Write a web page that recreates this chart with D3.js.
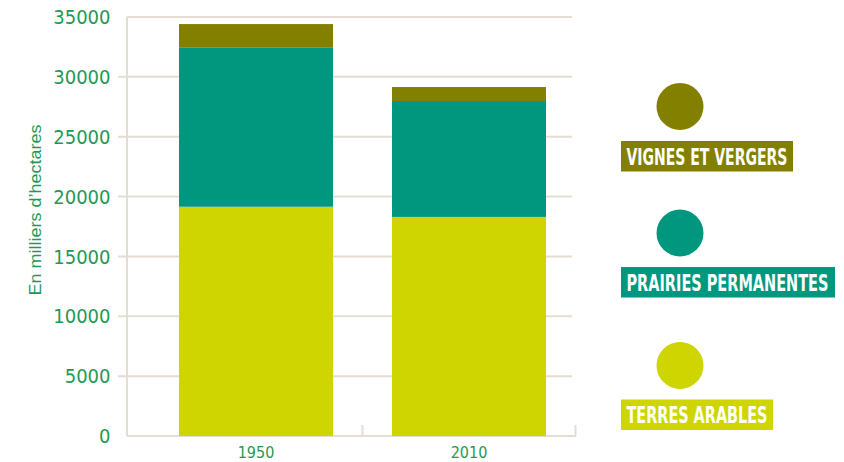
<!DOCTYPE html>
<html><head><meta charset="utf-8">
<script src="https://cdn.jsdelivr.net/npm/d3@7"></script>
<style>body{margin:0;background:#fff}svg{display:block}</style>
</head><body>
<svg id="c" width="844" height="462"></svg>
<script>
const years = ["1950", "2010"];
const terresArables = [19150, 18300];
const prairiesPermanentes = [13280, 9680];
const vignesVergers = [1980, 1170];
const yTicks = [0, 5000, 10000, 15000, 20000, 25000, 30000, 35000];
const seriesNames = ["TERRES ARABLES", "PRAIRIES PERMANENTES", "VIGNES ET VERGERS"];
const seriesColors = ["#ced500", "#00977f", "#838000"];

const svg = d3.select("#c");
const narrow = "'Liberation Sans Narrow','DejaVu Sans Condensed','Liberation Sans',sans-serif";
const green = "#1f9a55";
const gridCol = "#e6ddd1";

const y = d3.scaleLinear().domain([0, 35000]).range([436, 17]);
const x = d3.scaleBand().domain(years).range([149.5, 575.5]).paddingInner(0).paddingOuter(0);
const barW = x.bandwidth() * 0.723;

// gridlines
svg.append("g").selectAll("line").data(yTicks).join("line")
  .attr("x1", d => (d === 0 || d === 35000) ? 127 : 118)
  .attr("x2", d => d === 0 ? 576 : 572)
  .attr("y1", d => y(d)).attr("y2", d => y(d))
  .attr("stroke", gridCol).attr("stroke-width", 2);

// y axis line
svg.append("line").attr("x1", 127).attr("x2", 127).attr("y1", y(35000)).attr("y2", y(0))
  .attr("stroke", gridCol).attr("stroke-width", 2);

// x axis ticks
svg.append("g").selectAll("line").data([x("2010"), x("2010") + x.bandwidth()]).join("line")
  .attr("x1", d => d).attr("x2", d => d).attr("y1", y(0)).attr("y2", y(0) - 11)
  .attr("stroke", gridCol).attr("stroke-width", 2);

// stacked data
const table = years.map((yr, i) => ({year: yr, t: terresArables[i], p: prairiesPermanentes[i], v: vignesVergers[i]}));
const stack = d3.stack().keys(["t", "p", "v"])(table);
svg.append("g").selectAll("g").data(stack).join("g")
  .attr("fill", (d, i) => seriesColors[i])
  .selectAll("rect").data(d => d).join("rect")
  .attr("x", d => x(d.data.year) + (x.bandwidth() - barW) / 2)
  .attr("width", barW)
  .attr("y", d => y(d[1]))
  .attr("height", d => y(d[0]) - y(d[1]));

// helper: fit text horizontally by scaling
function fitX(sel, target) {
  sel.each(function(d) {
    const t = typeof target === "function" ? target(d) : target;
    const w = this.getComputedTextLength();
    const s = t / w;
    const g = this.parentNode;
    d3.select(this).attr("transform", `scale(${s},1)`);
  });
}

// y tick labels
svg.append("g").selectAll("text").data(yTicks).join("text")
  .attr("x", 110.5).attr("y", d => y(d)).attr("dy", "0.36em")
  .attr("text-anchor", "end").attr("fill", green)
  .style("font-family", narrow).style("font-size", "20px")
  .text(d => d);

// x labels
svg.append("g").selectAll("text").data(years).join("text")
  .attr("x", d => x(d) + x.bandwidth() / 2).attr("y", 458)
  .attr("text-anchor", "middle").attr("fill", green)
  .style("font-family", narrow).style("font-size", "16px")
  .text(d => d);

// y title
const yt = svg.append("g").attr("transform", "translate(41,210) rotate(-90)")
  .append("text").attr("text-anchor", "middle").attr("fill", green)
  .style("font-family", "'Liberation Sans','DejaVu Sans',sans-serif").style("font-size", "16px")
  .text("En milliers d’hectares");
fitX(yt, 171);

// legend
const legend = [
  {name: seriesNames[2], color: seriesColors[2], cy: 106.5, by: 141, bw: 172, tw: 161},
  {name: seriesNames[1], color: seriesColors[1], cy: 233, by: 267, bw: 214, tw: 202},
  {name: seriesNames[0], color: seriesColors[0], cy: 365.5, by: 399.5, bw: 152, tw: 141}
];
const lg = svg.append("g").selectAll("g").data(legend).join("g");
lg.append("circle").attr("cx", 680).attr("cy", d => d.cy).attr("r", 23.5).attr("fill", d => d.color);
lg.append("rect").attr("x", 621).attr("y", d => d.by).attr("width", d => d.bw).attr("height", 30.5)
  .attr("fill", d => d.color);
const lt = lg.append("g").attr("transform", d => `translate(626.5,${d.by + 23.5})`)
  .append("text").attr("x", 0).attr("y", 0)
  .attr("fill", "#fff").style("font-family", narrow).style("font-weight", "bold").style("font-size", "23px")
  .text(d => d.name);
fitX(lt, d => d.tw);
</script>
</body></html>
